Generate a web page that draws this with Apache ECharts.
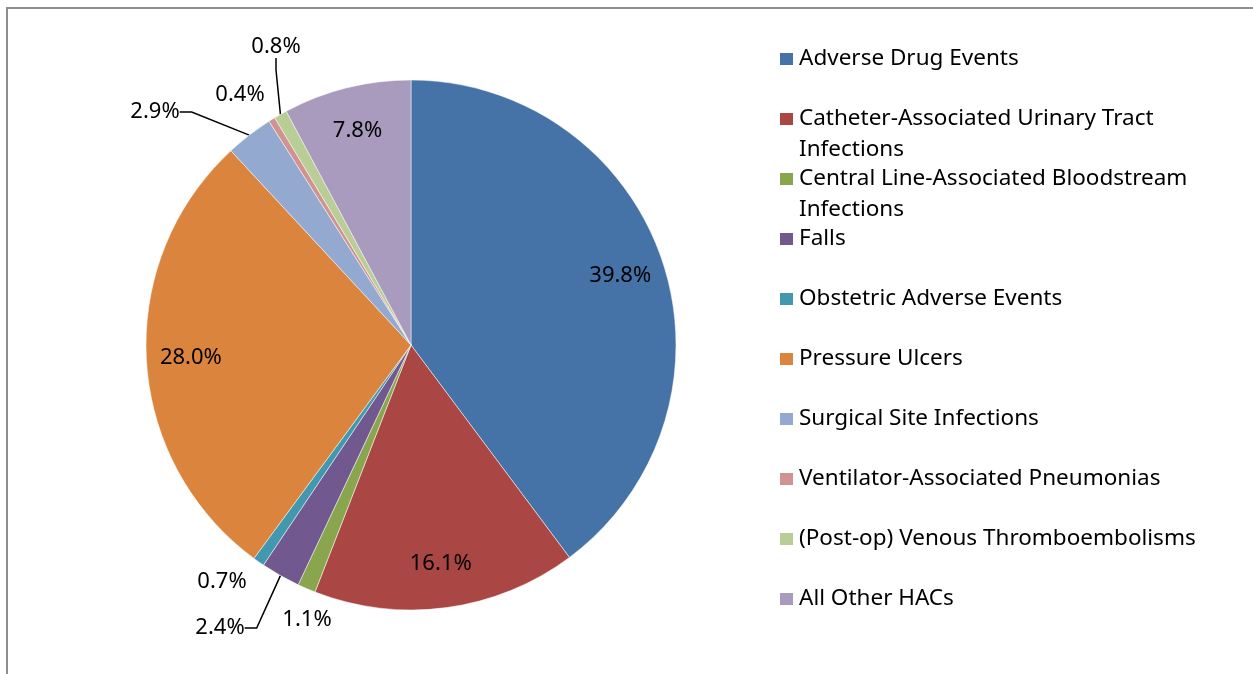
<!DOCTYPE html>
<html>
<head>
<meta charset="utf-8">
<script src="https://cdn.jsdelivr.net/npm/echarts@6/dist/echarts.min.js"></script>
<style>
  html, body { margin: 0; padding: 0; background: #fff; }
  #main { width: 1253px; height: 674px; }
</style>
</head>
<body>
<div id="main"></div>
<script>
var categories = [
    "Adverse Drug Events",
    "Catheter-Associated Urinary Tract Infections",
    "Central Line-Associated Bloodstream Infections",
    "Falls",
    "Obstetric Adverse Events",
    "Pressure Ulcers",
    "Surgical Site Infections",
    "Ventilator-Associated Pneumonias",
    "(Post-op) Venous Thromboembolisms",
    "All Other HACs"
];
var shares = [39.8, 16.1, 1.1, 2.4, 0.7, 28.0, 2.9, 0.4, 0.8, 7.8];
var colors = ["#4572A7", "#AA4643", "#89A54E", "#71588F", "#4198AF",
              "#DB843D", "#93A9CF", "#D19392", "#B9CD96", "#A99BBD"];

// where Excel put the labels of the thin slices (label centre, px)
var smallLabelPos = {
    "Central Line-Associated Bloodstream Infections": [307, 620],
    "Falls": [220, 628],
    "Obstetric Adverse Events": [222, 582],
    "Surgical Site Infections": [155, 112],
    "Ventilator-Associated Pneumonias": [240, 95],
    "(Post-op) Venous Thromboembolisms": [276, 47]
};
var withLeader = ["Falls", "Surgical Site Infections", "(Post-op) Venous Thromboembolisms"];
var legendLines = {
    "Catheter-Associated Urinary Tract Infections": ["Catheter-Associated Urinary Tract", "Infections"],
    "Central Line-Associated Bloodstream Infections": ["Central Line-Associated Bloodstream", "Infections"]
};

var font = "Noto Sans";
var pct = function (p) { return p.value.toFixed(1) + "%"; };

var mainData = [];
var innerData = [];
for (var i = 0; i < categories.length; i++) {
    var big = shares[i] > 5;
    mainData.push({
        name: categories[i],
        value: shares[i],
        itemStyle: { color: colors[i] },
        label: { show: !big },
        labelLine: { show: withLeader.indexOf(categories[i]) >= 0 }
    });
    innerData.push({
        name: categories[i],
        value: shares[i],
        label: { show: big }
    });
}

var myChart = echarts.init(document.getElementById("main"));
var option = {
    backgroundColor: "#fff",
    color: colors,
    animation: false,
    graphic: [{
        type: "rect",
        shape: { x: 7, y: 8, width: 1400, height: 800 },
        style: { fill: "none", stroke: "#8e8e8e", lineWidth: 2 },
        silent: true,
        z: -10
    }],
    legend: {
        orient: "vertical",
        left: 778,
        top: 12.5,
        padding: 0,
        itemWidth: 15,
        itemHeight: 14,
        itemGap: -33,
        icon: "rect",
        data: categories,
        // three-line block: blank / first line / wrap line, so the swatch sits on the first line
        formatter: function (name) {
            var l = legendLines[name] || [name, "\u00a0"];
            return "\u00a0\n" + l[0] + "\n" + l[1];
        },
        textStyle: {
            fontFamily: font,
            fontSize: 22.5,
            color: "#000",
            lineHeight: 31
        }
    },
    series: [
        {
            type: "pie",
            center: [411, 345],
            radius: 265,
            startAngle: 90,
            clockwise: true,
            avoidLabelOverlap: false,
            data: mainData,
            itemStyle: { borderColor: "#fff", borderWidth: 0.5 },
            label: {
                position: "outside",
                formatter: pct,
                fontFamily: font,
                fontSize: 22,
                color: "#000"
            },
            labelLine: {
                length: 10,
                length2: 12,
                lineStyle: { color: "#000", width: 1.5 }
            },
            labelLayout: function (params) {
                var p = smallLabelPos[categories[params.dataIndex]];
                if (!p) return;
                return { x: p[0], y: p[1], align: "center", verticalAlign: "middle" };
            },
            emphasis: { scale: false }
        },
        {
            // transparent ring that only carries the inside labels of the big slices
            type: "pie",
            center: [411, 345],
            radius: [170, 265],
            startAngle: 90,
            clockwise: true,
            silent: true,
            data: innerData,
            itemStyle: { color: "rgba(0,0,0,0)" },
            label: {
                position: "inside",
                formatter: pct,
                fontFamily: font,
                fontSize: 22,
                color: "#000"
            },
            labelLine: { show: false }
        }
    ]
};
myChart.setOption(option);
</script>
</body>
</html>
